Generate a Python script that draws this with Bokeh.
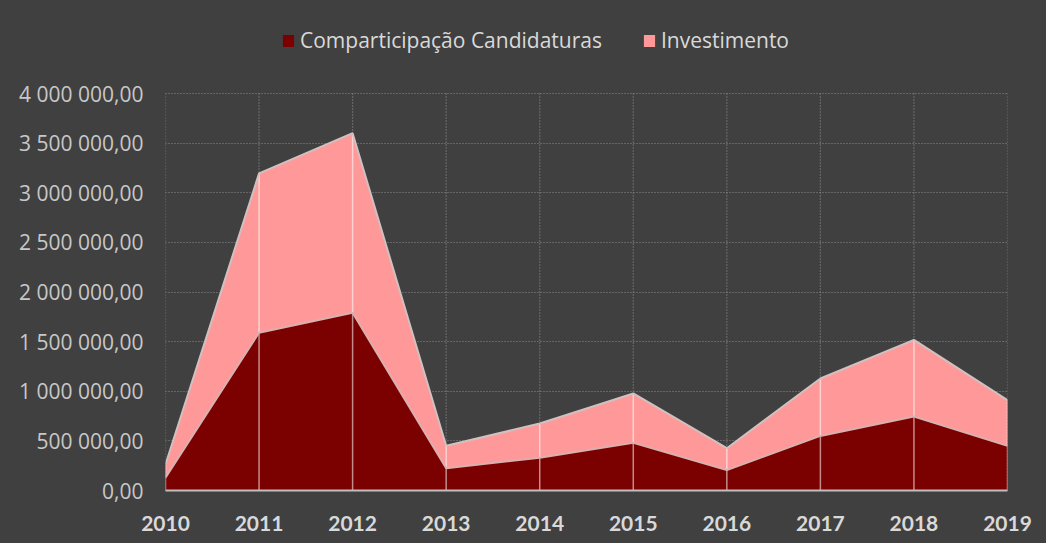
from bokeh.plotting import figure
from bokeh.models import ColumnDataSource, Range1d, FixedTicker, CustomJSTickFormatter, Legend, LegendItem
from bokeh.transform import stack
from bokeh.embed import file_html
from bokeh.resources import INLINE

years = [2010, 2011, 2012, 2013, 2014, 2015, 2016, 2017, 2018, 2019]
comparticipacao = [130000, 1590000, 1790000, 225000, 330000, 480000, 205000, 550000, 745000, 450000]
investimento = [132000, 1605000, 1810000, 225000, 345000, 498000, 221000, 578000, 773000, 460000]
series_names = ["Comparticipação Candidaturas", "Investimento"]
colors = ["#7b0000", "#ff9999"]
y_ticks = [0, 500000, 1000000, 1500000, 2000000, 2500000, 3000000, 3500000, 4000000]

BG = "#404040"
FIG_H = 543
BOTTOM = 53
PLOT_PX = 397  # pixel height of the 0..4 000 000 band
y_top = y_ticks[-1] * (FIG_H - BOTTOM) / PLOT_PX  # frame extends up to hold the legend

source = ColumnDataSource(dict(year=years, comp=comparticipacao, inv=investimento))
grid_src = ColumnDataSource(dict(x=years, y0=[0] * len(years), y1=[y_ticks[-1]] * len(years)))

p = figure(width=1046, height=FIG_H, output_backend="svg", toolbar_location=None,
           x_range=Range1d(2010, 2019), y_range=Range1d(0, y_top),
           min_border_left=165, min_border_right=39, min_border_top=0, min_border_bottom=BOTTOM,
           outline_line_color=None, styles={"background-color": BG})
p.background_fill_color = BG
p.border_fill_color = BG

p.xgrid.visible = False
p.ygrid.ticker = FixedTicker(ticks=y_ticks)
p.ygrid.grid_line_color = "#8a8a8a"
p.ygrid.grid_line_dash = "1 2"
p.ygrid.grid_line_width = 1.2

# vertical dotted grid lines, only up to the top tick
p.segment(x0="x", y0="y0", x1="x", y1="y1", source=grid_src,
          line_color="#8a8a8a", line_dash="1 2", line_width=1.2)

areas = p.varea_stack(["comp", "inv"], x="year", source=source, fill_color=colors)

p.segment(x0="year", y0=0, x1="year", y1=stack("comp", "inv"), source=source,
          line_color="#ffffff", line_alpha=0.55, line_width=1.5)

p.vline_stack(["comp", "inv"], x="year", source=source,
              line_color=["#d8b0b0", "#d0c0c0"], line_width=2)

p.xaxis.ticker = FixedTicker(ticks=years)
p.xaxis.major_tick_line_color = None
p.xaxis.minor_tick_line_color = None
p.xaxis.axis_line_color = "#bfbfbf"
p.xaxis.axis_line_width = 2
p.xaxis.major_label_text_font = "Lato"
p.xaxis.major_label_text_font_style = "bold"
p.xaxis.major_label_text_font_size = "21px"
p.xaxis.major_label_text_color = "#d9d9d9"
p.xaxis.major_label_standoff = 19

p.yaxis.ticker = FixedTicker(ticks=y_ticks)
p.yaxis.formatter = CustomJSTickFormatter(code="""
const s = Math.round(tick).toString().replace(/\\B(?=(\\d{3})+(?!\\d))/g, " ");
return s + ",00";
""")
p.yaxis.major_tick_line_color = None
p.yaxis.minor_tick_line_color = None
p.yaxis.axis_line_color = None
p.yaxis.major_label_text_font = "Open Sans"
p.yaxis.major_label_text_font_size = "21px"
p.yaxis.major_label_text_color = "#c8c8c8"
p.yaxis.major_label_standoff = 16

legend = Legend(items=[LegendItem(label=n, renderers=[r]) for n, r in zip(series_names, areas)],
                orientation="horizontal", location=(116, 436))
legend.background_fill_alpha = 0
legend.border_line_color = None
legend.label_text_font = "Open Sans"
legend.label_text_font_size = "21px"
legend.label_text_color = "#d9d9d9"
legend.glyph_width = 14
legend.glyph_height = 15
legend.label_standoff = 5
legend.spacing = 40
legend.padding = 0
legend.margin = 0
p.add_layout(legend, "center")

open("out.html", "w").write(file_html(p, INLINE))
